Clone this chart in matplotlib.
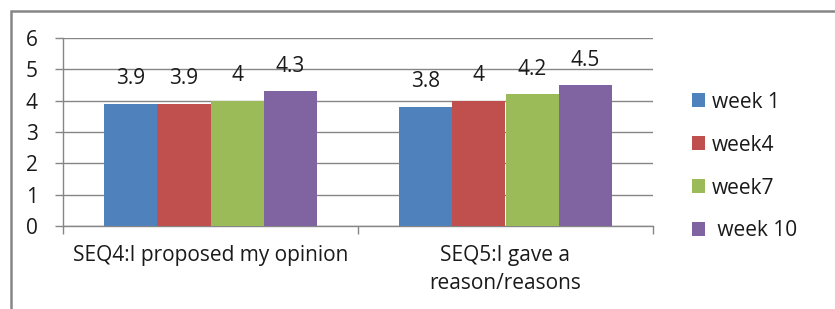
import matplotlib
matplotlib.use("Agg")
import matplotlib.pyplot as plt
from matplotlib.patches import Rectangle
import numpy as np

plt.rcParams['font.family'] = ['Open Sans', 'DejaVu Sans']

categories = ["SEQ4:I proposed my opinion", "SEQ5:I gave a\nreason/reasons"]
series = ["week 1", "week4", "week7", " week 10"]
values = [
    [3.9, 3.8],
    [3.9, 4.0],
    [4.0, 4.2],
    [4.3, 4.5],
]
value_labels = [
    ["3.9", "3.8"],
    ["3.9", "4"],
    ["4", "4.2"],
    ["4.3", "4.5"],
]
colors = ["#4F81BD", "#C0504D", "#9BBB59", "#8064A2"]
yticks = [0, 1, 2, 3, 4, 5, 6]

fig = plt.figure(figsize=(8.35, 3.09), dpi=100)
ax = fig.add_axes([63 / 835, 1 - 226 / 309, 590 / 835, 188 / 309])

grid_c = "#868686"
txt_c = "#1a1a1a"
fs = 15
x = np.arange(len(categories))
w = 0.18
offsets = [-1.5 * w, -0.5 * w, 0.5 * w, 1.5 * w]
handles = []
for i, s in enumerate(series):
    bars = ax.bar(x + offsets[i], values[i], w, color=colors[i], label=s,
                  zorder=3, linewidth=0)
    handles.append(bars)
    for j, b in enumerate(bars):
        ax.annotate(value_labels[i][j], (b.get_x() + b.get_width() / 2, b.get_height()),
                    xytext=(0, 18), textcoords="offset points", ha="center", va="center",
                    fontsize=fs, color=txt_c, zorder=4)

ax.set_xlim(-0.5, 1.5)
ax.set_ylim(0, 6)
ax.set_yticks(yticks)
ax.set_yticklabels([str(t) for t in yticks], fontsize=fs, color=txt_c)
ax.yaxis.grid(True, color=grid_c, linewidth=1, zorder=0)
ax.set_axisbelow(True)

ax.set_xticks([-0.5, 0.5, 1.5], minor=True)
ax.set_xticks(x)
ax.set_xticklabels(categories, fontsize=fs, linespacing=1.4, color=txt_c)
ax.tick_params(axis="x", which="major", length=0, pad=14)
ax.tick_params(axis="x", which="minor", length=6, color=grid_c, width=1)
ax.tick_params(axis="y", length=6, color=grid_c, width=1, pad=12)
for sp in ["top", "right"]:
    ax.spines[sp].set_visible(False)
for sp in ["left", "bottom"]:
    ax.spines[sp].set_color(grid_c)
    ax.spines[sp].set_linewidth(1)

leg = fig.legend(handles=handles, labels=series, loc="upper left",
                 bbox_to_anchor=(673 / 835, 1 - 73 / 309), frameon=False,
                 fontsize=fs, handlelength=0.65, handleheight=0.65,
                 handletextpad=0.3, labelspacing=1.05)
for t in leg.get_texts():
    t.set_color(txt_c)

fig.patches.append(Rectangle((11 / 835, -0.1), 1.2, 1.1 - 11 / 309,
                             transform=fig.transFigure, fill=False,
                             edgecolor=grid_c, linewidth=1.8))

fig.savefig("out.png", dpi=100)
